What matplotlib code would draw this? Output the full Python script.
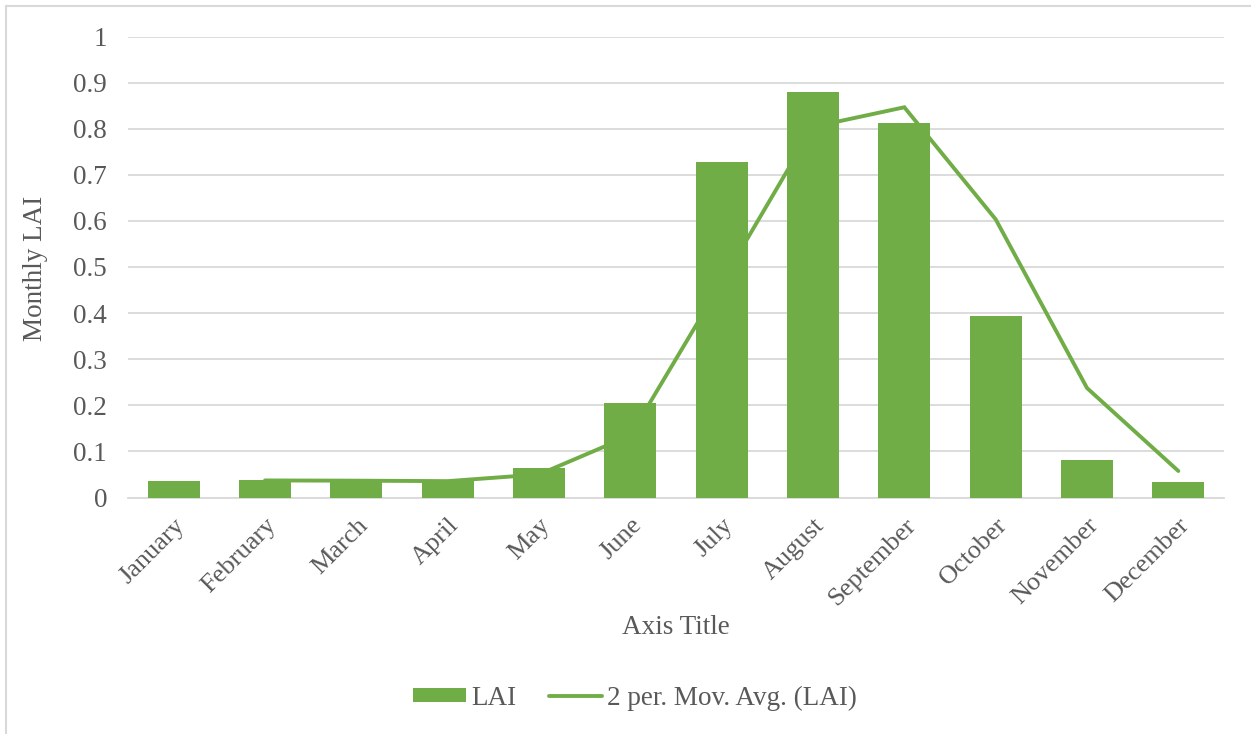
import pandas as pd
import matplotlib.pyplot as plt
from matplotlib.patches import Patch
from matplotlib.lines import Line2D

months = ["January", "February", "March", "April", "May", "June", "July",
          "August", "September", "October", "November", "December"]
lai = [0.036, 0.038, 0.035, 0.036, 0.064, 0.205, 0.728,
       0.880, 0.813, 0.394, 0.081, 0.034]
y_ticks = [0, 0.1, 0.2, 0.3, 0.4, 0.5, 0.6, 0.7, 0.8, 0.9, 1]
y_tick_labels = ["0", "0.1", "0.2", "0.3", "0.4", "0.5", "0.6", "0.7", "0.8", "0.9", "1"]

GREEN = "#70AD47"
GRID = "#D9D9D9"
TEXT = "#595959"
W, H = 1251, 734
FS = 19.5

plt.rcParams["font.family"] = ["Liberation Serif", "DejaVu Serif"]

fig = plt.figure(figsize=(W / 100, H / 100), dpi=100)
ax = fig.add_axes([128 / W, 1 - 497.5 / H, (1224 - 128) / W, (497.5 - 36.5) / H])

x = list(range(len(months)))
ax.bar(x, lai, width=0.57, color=GREEN, zorder=2)

# two-period moving average trendline
mov_avg = pd.Series(lai).rolling(2).mean()
ax.plot(x[1:], mov_avg[1:], color=GREEN, linewidth=2.8,
        solid_capstyle="round", solid_joinstyle="miter", zorder=3)

ax.set_xlim(-0.5, len(months) - 0.5)
ax.set_ylim(0, 1)
ax.set_yticks(y_ticks)
ax.set_yticklabels(y_tick_labels)
ax.yaxis.grid(True, color=GRID, linewidth=1.3, zorder=0)
ax.set_axisbelow(True)
for side in ["top", "right", "left"]:
    ax.spines[side].set_visible(False)
ax.spines["bottom"].set_color(GRID)
ax.spines["bottom"].set_linewidth(1.3)
ax.spines["bottom"].set_zorder(1)

ax.set_xticks(x)
ax.set_xticklabels(months, rotation=45, ha="right", rotation_mode="anchor")
ax.tick_params(axis="both", length=0, labelsize=FS, labelcolor=TEXT)
ax.tick_params(axis="x", labelsize=19, pad=12)
ax.tick_params(axis="y", pad=15)

fig.text(676 / W, 1 - 628 / H, "Axis Title", ha="center", va="center",
         fontsize=FS, color=TEXT)
fig.text(36 / W, 1 - 268 / H, "Monthly LAI", ha="center", va="center",
         rotation=90, fontsize=FS, color=TEXT)

handles = [Patch(facecolor=GREEN, edgecolor="none"),
           Line2D([0], [0], color=GREEN, linewidth=2.8, solid_capstyle="round")]
fig.legend(handles, ["LAI", "2 per. Mov. Avg. (LAI)"], loc="center",
           bbox_to_anchor=(635 / W, 1 - 698 / H), ncol=2, frameon=False,
           fontsize=FS, labelcolor=TEXT, handlelength=1.95, handleheight=0.45,
           handletextpad=0.2, columnspacing=1.2)

# chart-area outline along the left and top edges
fig.add_artist(Line2D([5.5 / W, 5.5 / W], [0, 1 - 5.5 / H],
                      transform=fig.transFigure, color=GRID, linewidth=1.5))
fig.add_artist(Line2D([5.5 / W, 1], [1 - 5.5 / H, 1 - 5.5 / H],
                      transform=fig.transFigure, color=GRID, linewidth=1.5))

fig.savefig("out.png", dpi=100)
